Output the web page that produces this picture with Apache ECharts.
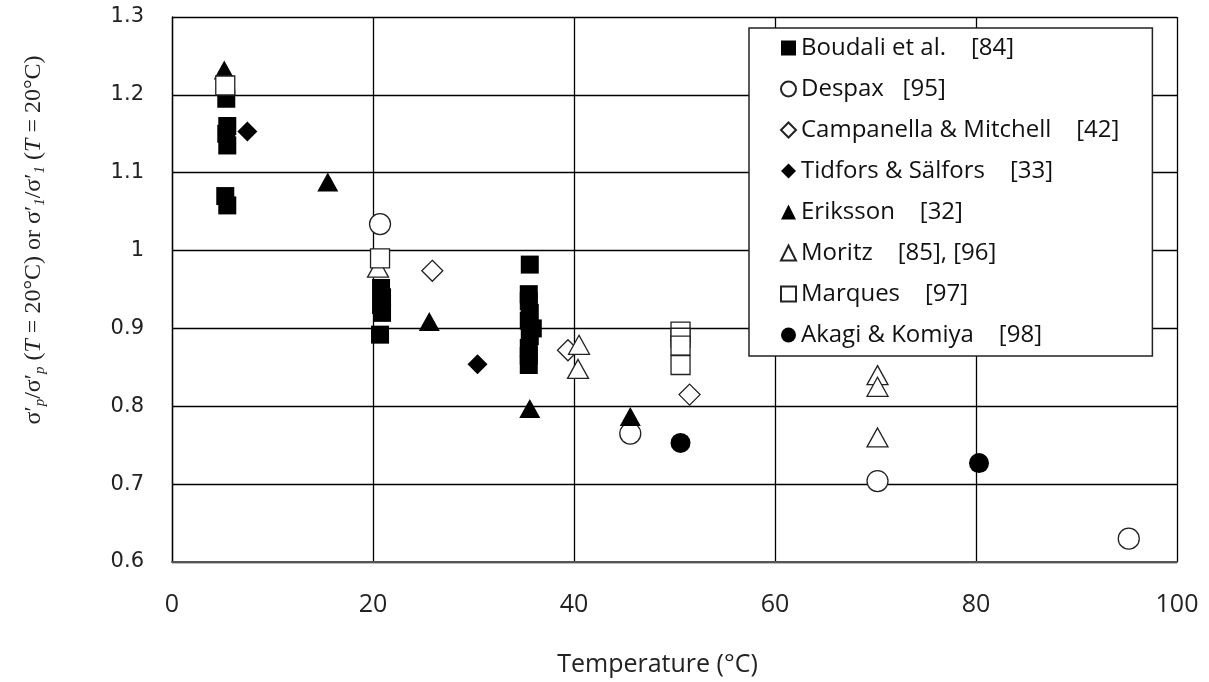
<!DOCTYPE html>
<html>
<head>
<meta charset="utf-8">
<script src="https://cdn.jsdelivr.net/npm/echarts@6/dist/echarts.min.js"></script>
<style>html,body{margin:0;padding:0;background:#fff;}#c{width:1209px;height:682px;}</style>
</head>
<body>
<div id="c"></div>
<script>
// ---- data ----
const seriesNames = [
  'Boudali et al.    [84]',
  'Despax   [95]',
  'Campanella & Mitchell    [42]',
  'Tidfors & Sälfors    [33]',
  'Eriksson    [32]',
  'Moritz    [85], [96]',
  'Marques    [97]',
  'Akagi & Komiya    [98]'
];
const boudali = [[5.4,1.195],[5.5,1.16],[5.4,1.15],[5.5,1.135],[5.3,1.07],[5.5,1.058],
  [20.8,0.952],[20.9,0.94],[20.8,0.93],[20.9,0.92],[20.7,0.892],
  [35.6,0.982],[35.5,0.944],[35.5,0.935],[35.6,0.92],[35.5,0.91],[35.9,0.9],[35.6,0.89],[35.5,0.875],[35.5,0.865],[35.5,0.853]];
const despax = [[20.7,1.034],[45.6,0.765],[70.2,0.704],[95.2,0.63]];
const campanella = [[25.9,0.974],[39.4,0.872],[51.5,0.815]];
const tidfors = [[7.5,1.153],[30.4,0.854]];
const eriksson = [[5.2,1.232],[15.5,1.088],[25.6,0.909],[35.6,0.797],[45.6,0.787]];
const moritz = [[20.5,0.978],[40.5,0.879],[40.4,0.848],[70.2,0.84],[70.2,0.825],[70.2,0.76]];
const marques = [[5.3,1.212],[20.7,0.99],[50.6,0.896],[50.6,0.888],[50.6,0.878],[50.6,0.853]];
const akagi = [[50.6,0.753],[80.3,0.727]];
const xTicks = {min: 0, max: 100, interval: 20};
const yTicks = {min: 0.6, max: 1.3, interval: 0.1};

const filled = {color: '#000', borderWidth: 0, opacity: 1};
const hollow = {color: '#fff', borderColor: '#222', borderWidth: 1.3, opacity: 1};

const specs = [
  {data: boudali, symbol: 'rect', size: 18, style: filled},
  {data: despax, symbol: 'circle', size: 21, style: hollow},
  {data: campanella, symbol: 'diamond', size: 21, style: hollow},
  {data: tidfors, symbol: 'diamond', size: 20, style: filled},
  {data: eriksson, symbol: 'triangle', size: [21, 19], style: filled},
  {data: moritz, symbol: 'triangle', size: [21, 19], style: hollow},
  {data: marques, symbol: 'rect', size: 19, style: hollow},
  {data: akagi, symbol: 'circle', size: 20, style: filled}
];

const series = specs.map((s, i) => ({
  name: seriesNames[i],
  type: 'scatter',
  data: s.data,
  symbol: s.symbol,
  symbolSize: s.size,
  itemStyle: s.style,
  emphasis: {disabled: true}
}));

const chart = echarts.init(document.getElementById('c'));
chart.setOption({
  animation: false,
  backgroundColor: '#fff',
  grid: {left: 172, right: 32, top: 17, bottom: 117, show: false},
  xAxis: {
    type: 'value', min: xTicks.min, max: xTicks.max, interval: xTicks.interval,
    name: 'Temperature (°C)', nameLocation: 'middle', nameGap: 90,
    nameTextStyle: {fontFamily: 'Open Sans', fontSize: 25, color: '#222', padding: [0, 34, 0, 0]},
    axisLine: {show: true, lineStyle: {color: '#555', width: 2}},
    axisTick: {show: false},
    axisLabel: {fontFamily: 'Open Sans', fontSize: 25, color: '#222', margin: 30},
    splitLine: {show: true, lineStyle: {color: '#000', width: 1.3}}
  },
  yAxis: {
    type: 'value', min: yTicks.min, max: yTicks.max, interval: yTicks.interval,
    axisLine: {show: true, lineStyle: {color: '#000', width: 1.3}},
    axisTick: {show: false},
    axisLabel: {fontFamily: 'DejaVu Sans', fontSize: 21, color: '#222', margin: 28},
    splitLine: {show: true, lineStyle: {color: '#000', width: 1.3}}
  },
  legend: {
    orient: 'vertical', left: 749, top: 28,
    padding: [8, 33, 9, 31],
    itemGap: 17, itemWidth: 15, itemHeight: 15,
    backgroundColor: '#fff', borderColor: '#222', borderWidth: 1.5,
    textStyle: {fontFamily: 'Open Sans', fontSize: 24, color: '#111', lineHeight: 23.6},
    data: seriesNames.map((n, i) => ({name: n, icon: specs[i].symbol}))
  },
  graphic: [{
    type: 'text',
    x: 34, y: 240,
    rotation: Math.PI / 2,
    style: {
      text: '{g|σ′}{s|p}{g|/σ′}{s|p}{g| (}{i|T}{g| = 20°C) or σ′}{s|1}{g|/σ′}{s|1}{g| (}{i|T}{g| = 20°C)}',
      align: 'center', verticalAlign: 'middle',
      fill: '#222',
      rich: {
        g: {fontFamily: 'Liberation Serif', fontSize: 24, fill: '#222', lineHeight: 26},
        i: {fontFamily: 'Liberation Serif', fontStyle: 'italic', fontSize: 24, fill: '#222', lineHeight: 26},
        s: {fontFamily: 'Liberation Serif', fontStyle: 'italic', fontSize: 15, fill: '#222', lineHeight: 15, padding: [12, 0, 0, 0]}
      }
    }
  }],
  series: series
});
</script>
</body>
</html>
